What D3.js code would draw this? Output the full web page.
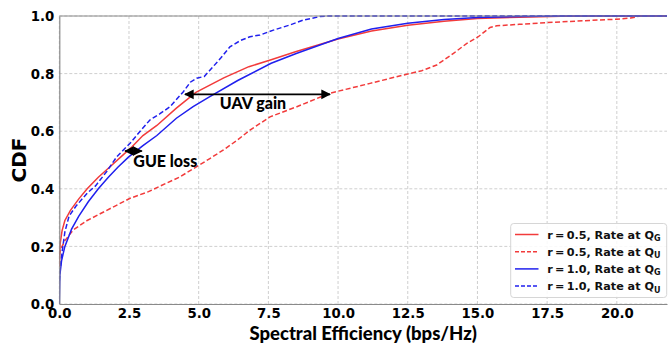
<!DOCTYPE html>
<html>
<head>
<meta charset="utf-8">
<script src="https://cdn.jsdelivr.net/npm/d3@7"></script>
<style>
  body { margin: 0; background: #fff; }
  svg { display: block; }
</style>
</head>
<body>
<div id="chart"></div>
<script>
// tick labels
var xTicks = [0, 2.5, 5, 7.5, 10, 12.5, 15, 17.5, 20];
var yTicks = [0, 0.2, 0.4, 0.6, 0.8, 1.0];

// r = 0.5, rate at Q_G
var redSolidX = [0, 0.03, 0.1, 0.2, 0.4, 0.7, 1.0, 1.4, 1.8, 2.2, 2.6, 3.0, 3.5, 4.2, 4.9, 5.9, 6.8, 7.6, 8.5, 10.0, 11.2, 12.5, 13.8, 15.0, 16.5, 18.0, 19.5, 21.0, 21.8];
var redSolidY = [0.13, 0.21, 0.255, 0.29, 0.325, 0.365, 0.4, 0.44, 0.475, 0.51, 0.545, 0.585, 0.62, 0.68, 0.735, 0.785, 0.824, 0.848, 0.877, 0.92, 0.948, 0.968, 0.982, 0.991, 0.996, 0.999, 1.0, 1.0, 1.0];

// r = 0.5, rate at Q_U
var redDashX = [0, 0.05, 0.2, 0.5, 1.0, 1.5, 2.0, 2.54, 3.2, 3.85, 4.3, 4.93, 5.4, 5.89, 6.4, 6.84, 7.56, 8.52, 9.71, 11.15, 12.34, 13.0, 13.54, 14.14, 14.62, 15.03, 15.45, 15.69, 16.5, 17.49, 18.5, 20.0, 20.5, 20.84, 21.8];
var redDashY = [0.17, 0.19, 0.22, 0.257, 0.29, 0.315, 0.34, 0.367, 0.39, 0.42, 0.44, 0.477, 0.505, 0.535, 0.57, 0.604, 0.65, 0.685, 0.732, 0.766, 0.795, 0.81, 0.83, 0.87, 0.905, 0.928, 0.96, 0.966, 0.971, 0.977, 0.982, 0.989, 0.993, 1.0, 1.0];

// r = 1.0, rate at Q_G
var blueSolidX = [0, 0.02, 0.08, 0.2, 0.44, 0.7, 1.04, 1.4, 1.76, 2.1, 2.48, 3.0, 3.5, 4.2, 4.8, 5.4, 6.4, 7.6, 8.5, 10.0, 11.2, 12.5, 13.8, 15.0, 16.5, 18.0, 20.0, 21.8];
var blueSolidY = [0, 0.1, 0.15, 0.2, 0.26, 0.305, 0.355, 0.4, 0.44, 0.475, 0.51, 0.55, 0.585, 0.645, 0.685, 0.72, 0.776, 0.836, 0.87, 0.922, 0.955, 0.975, 0.988, 0.995, 0.998, 1.0, 1.0, 1.0];

// r = 1.0, rate at Q_U
var blueDashX = [0, 0.03, 0.1, 0.2, 0.35, 0.6, 1.0, 1.3, 1.7, 2.06, 2.3, 2.54, 2.9, 3.25, 3.6, 3.97, 4.2, 4.45, 4.7, 4.93, 5.2, 5.41, 5.8, 6.12, 6.5, 6.84, 7.2, 7.68, 8.28, 8.76, 9.35, 9.6, 21.8];
var blueDashY = [0.08, 0.12, 0.18, 0.25, 0.305, 0.34, 0.385, 0.41, 0.46, 0.511, 0.535, 0.558, 0.6, 0.639, 0.66, 0.685, 0.71, 0.737, 0.77, 0.784, 0.79, 0.8125, 0.855, 0.893, 0.915, 0.928, 0.934, 0.951, 0.969, 0.986, 0.998, 1.0, 1.0];

var legendRates = ["0.5", "0.5", "1.0", "1.0"];
var legendSubs = ["G", "U", "G", "U"];

var width = 670,
    height = 346;
var margin = {top: 16, right: 3, bottom: 42, left: 59.3};

var red = "#f23b3b",
    blue = "#2020ee";

var svg = d3.select("#chart").append("svg")
    .attr("width", width)
    .attr("height", height);

var x = d3.scaleLinear()
    .domain([0, 21.8])
    .range([margin.left, width - margin.right]);

var y = d3.scaleLinear()
    .domain([0, 1])
    .range([height - margin.bottom, margin.top]);

// grid
var grid = svg.append("g");
grid.selectAll(".vg")
    .data(xTicks).enter()
    .append("line")
    .attr("x1", function(d) { return x(d); })
    .attr("x2", function(d) { return x(d); })
    .attr("y1", y(0))
    .attr("y2", y(1))
    .attr("stroke", "#cfcfcf")
    .attr("stroke-width", 1)
    .attr("stroke-dasharray", "3,2");
grid.selectAll(".hg")
    .data(yTicks).enter()
    .append("line")
    .attr("x1", x.range()[0])
    .attr("x2", x.range()[1])
    .attr("y1", function(d) { return y(d); })
    .attr("y2", function(d) { return y(d); })
    .attr("stroke", "#cfcfcf")
    .attr("stroke-width", 1)
    .attr("stroke-dasharray", "3,2");

// clip
svg.append("clipPath").attr("id", "clip")
    .append("rect")
    .attr("x", x.range()[0])
    .attr("y", y(1) - 2)
    .attr("width", x.range()[1] - x.range()[0])
    .attr("height", y(0) - y(1) + 2);

var line = d3.line()
    .x(function(d) { return x(d[0]); })
    .y(function(d) { return y(d[1]); });

function pairs(xs, ys) {
    return xs.map(function(v, i) { return [v, ys[i]]; });
}

var series = [
    {pts: pairs(redSolidX, redSolidY), color: red, dash: null},
    {pts: pairs(redDashX, redDashY), color: red, dash: "5,2.5"},
    {pts: pairs(blueSolidX, blueSolidY), color: blue, dash: null},
    {pts: pairs(blueDashX, blueDashY), color: blue, dash: "5,2.5"}
];

var curves = svg.append("g").attr("clip-path", "url(#clip)");
series.forEach(function(s) {
    curves.append("path")
        .datum(s.pts)
        .attr("d", line)
        .attr("fill", "none")
        .attr("stroke", s.color)
        .attr("stroke-width", 1.5)
        .attr("stroke-dasharray", s.dash);
});

// spines
var spine = "#8a8a8a";
svg.append("line")
    .attr("x1", x.range()[0]).attr("x2", x.range()[1])
    .attr("y1", y(1)).attr("y2", y(1))
    .attr("stroke", spine);

// axes
var xAxis = d3.axisBottom(x)
    .tickValues(xTicks)
    .tickSize(0)
    .tickPadding(5)
    .tickFormat(d3.format(".1f"));
var yAxis = d3.axisLeft(y)
    .tickValues(yTicks)
    .tickSize(0)
    .tickPadding(5)
    .tickFormat(d3.format(".1f"));

var gx = svg.append("g")
    .attr("transform", "translate(0," + y(0) + ")")
    .call(xAxis);
var gy = svg.append("g")
    .attr("transform", "translate(" + x(0) + ",0)")
    .call(yAxis);

[gx, gy].forEach(function(g) {
    g.select(".domain").attr("stroke", spine).attr("stroke-width", 1.2);
    g.selectAll("text")
        .attr("font-family", "DejaVu Sans")
        .attr("font-weight", "bold")
        .attr("font-size", 13.3)
        .attr("fill", "#000");
});
gy.selectAll("text").attr("dy", "0.35em");

// axis titles
svg.append("text")
    .attr("x", (x.range()[0] + x.range()[1]) / 2)
    .attr("y", 340)
    .attr("text-anchor", "middle")
    .attr("font-family", "Lato")
    .attr("font-weight", 900)
    .attr("font-size", 18.5)
    .attr("fill", "#000")
    .text("Spectral Efficiency (bps/Hz)");

svg.append("text")
    .attr("transform", "translate(25.5," + ((y(0) + y(1)) / 2) + ") rotate(-90)")
    .attr("text-anchor", "middle")
    .attr("font-family", "DejaVu Sans")
    .attr("font-weight", "bold")
    .attr("font-size", 20)
    .attr("fill", "#000")
    .text("CDF");

// annotations
var defs = svg.append("defs");
defs.append("marker")
    .attr("id", "head")
    .attr("viewBox", "0 0 10 10")
    .attr("refX", 9).attr("refY", 5)
    .attr("markerWidth", 6).attr("markerHeight", 6.5)
    .attr("markerUnits", "strokeWidth")
    .attr("orient", "auto-start-reverse")
    .append("path")
    .attr("d", "M0,0 L10,5 L0,10 Z")
    .attr("fill", "#000");

function dblArrow(x1, x2, yv) {
    svg.append("line")
        .attr("x1", x(x1)).attr("x2", x(x2))
        .attr("y1", y(yv)).attr("y2", y(yv))
        .attr("stroke", "#000")
        .attr("stroke-width", 1.6)
        .attr("marker-start", "url(#head)")
        .attr("marker-end", "url(#head)");
}
dblArrow(4.51, 9.71, 0.728);
dblArrow(2.36, 2.96, 0.531);

svg.append("text")
    .attr("x", 253).attr("y", 108.5)
    .attr("text-anchor", "middle")
    .attr("font-family", "Lato").attr("font-weight", 900)
    .attr("font-size", 16).attr("fill", "#000")
    .text("UAV gain");
svg.append("text")
    .attr("x", 133.3).attr("y", 167.3)
    .attr("font-family", "Lato").attr("font-weight", 900)
    .attr("font-size", 16).attr("fill", "#000")
    .text("GUE loss");

// legend
var lg = svg.append("g");
lg.append("rect")
    .attr("x", 510.7).attr("y", 223.5)
    .attr("width", 156).attr("height", 74)
    .attr("rx", 3)
    .attr("fill", "#fff")
    .attr("fill-opacity", 0.85)
    .attr("stroke", "#d6d6d6");

series.forEach(function(s, i) {
    var cy = 234.5 + i * 17.2;
    lg.append("line")
        .attr("x1", 515).attr("x2", 538.5)
        .attr("y1", cy).attr("y2", cy)
        .attr("stroke", s.color)
        .attr("stroke-width", 1.5)
        .attr("stroke-dasharray", s.dash ? "4,2" : null);
    var t = lg.append("text")
        .attr("x", 547.3).attr("y", cy + 4)
        .attr("font-family", "DejaVu Sans").attr("font-weight", "bold")
        .attr("font-size", 11.2).attr("fill", "#111");
    t.append("tspan").text("r\u2009=\u2009" + legendRates[i] + ", Rate at Q");
    t.append("tspan")
        .attr("font-size", 8)
        .attr("dy", 2.5)
        .text(legendSubs[i]);
});
</script>
</body>
</html>
